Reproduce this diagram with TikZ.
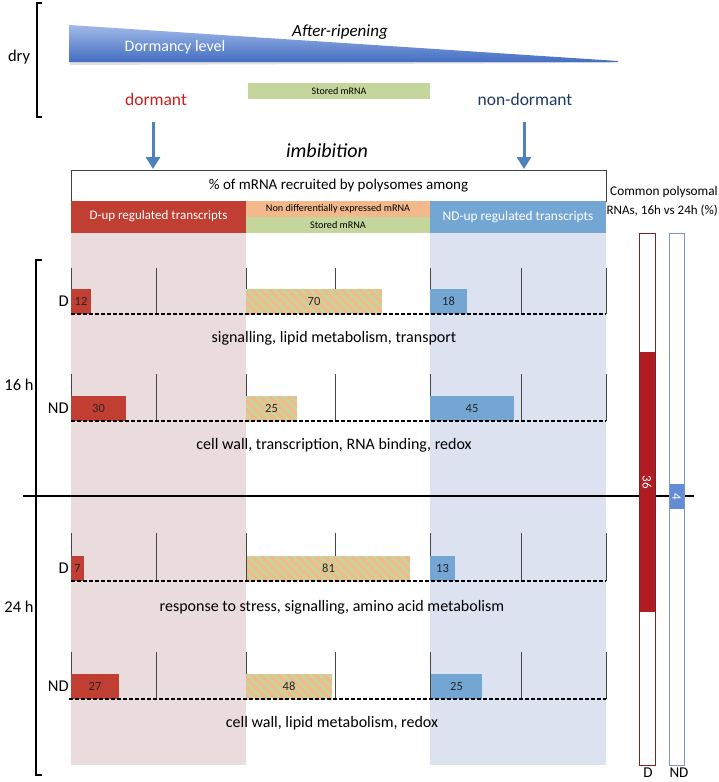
\documentclass[tikz,border=0pt]{standalone}
\usepackage{fontspec}
\setmainfont{Carlito}
\usetikzlibrary{arrows.meta}
\definecolor{redbar}{RGB}{192,62,50}
\definecolor{bluebar}{RGB}{116,166,211}
\definecolor{pinkbg}{RGB}{234,220,220}
\definecolor{bluebg}{RGB}{220,226,240}
\definecolor{peach}{RGB}{242,186,140}
\definecolor{sgreen}{RGB}{196,214,155}
\definecolor{arrowblue}{RGB}{79,129,189}
\definecolor{commonred}{RGB}{176,28,34}
\definecolor{commonredline}{RGB}{110,40,40}
\definecolor{commonblue}{RGB}{100,140,212}
\definecolor{commonblueline}{RGB}{120,150,205}
\definecolor{dormred}{RGB}{200,30,30}
\definecolor{ndblue}{RGB}{31,56,100}
\definecolor{tickgray}{RGB}{70,70,70}
\newcommand\fsz[1]{\fontsize{#1}{#1}\selectfont}
\begin{document}
\begin{tikzpicture}[x=1pt,y=-1pt,
  box/.style={inner sep=0pt, outer sep=0pt, minimum width=#1},
  barbox/.style={inner sep=0pt, outer sep=0pt, anchor=south west, minimum height=25, font=\fsz{12.5}, text=black!85},
  redb/.style={barbox, fill=redbar, minimum width=#1},
  blueb/.style={barbox, fill=bluebar, minimum width=#1},
  hatchb/.style={barbox, fill=sgreen, minimum width=#1,
    path picture={\foreach \k in {-40,-31,...,175}
      \draw[peach, line width=3.2pt] ([xshift=\k pt]path picture bounding box.north west) -- ++(40,40);}},
  ticka/.style={tickgray, line width=0.8pt},
  baseline dash/.style={black, line width=1.3pt, dash pattern=on 4pt off 2pt},
  rowlab/.style={anchor=east, font=\fsz{16.5}, inner sep=1pt},
  desc/.style={font=\fsz{16}, inner sep=0pt},
  brack/.style={black, line width=1.4pt},
  bigarrow/.style={arrowblue, line width=3pt, -{Triangle[width=14pt,length=12pt]}}
]
\useasboundingbox (0,0) rectangle (719,782);

% column backgrounds
\fill[pinkbg] (71,232) rectangle (246,765);
\fill[bluebg] (430,232) rectangle (606,765);

% dry part
\draw[brack] (42,3) -- (37,3) -- (37,117) -- (42,117);
\node[font=\fsz{16.5}] (dry) at (19,57) {dry};
\fill[black!12] (70,27) -- (620,63) -- (70,65) -- cycle;
\shade[top color={rgb,255:red,160;green,185;blue,232}, bottom color={rgb,255:red,68;green,110;blue,194}]
  (69,25) -- (618,61) -- (618,62) -- (69,62) -- cycle;
\node[font=\fsz{16}, text=white] (dl) at (175,47) {Dormancy level};
\node[font=\fsz{17}\itshape] (ar) at (340,32) {After-ripening};
\node[box=182, minimum height=16, fill=sgreen, font=\fsz{10}] (stored) at (339,91) {Stored mRNA};
\node[font=\fsz{17.5}, text=dormred] (dorm) at (156,99) {dormant};
\node[font=\fsz{17.5}, text=ndblue] (nondorm) at (525,99) {non-dormant};
\node[font=\fsz{20}\itshape] (imb) at (327,151) {imbibition};

\coordinate (a1s) at (153,122);
\coordinate (a1e) at (153,169);
\coordinate (a2s) at (524,122);
\coordinate (a2e) at (524,169);
\draw[bigarrow] (a1s) -- (a1e);
\draw[bigarrow] (a2s) -- (a2e);

% header
\node[box=535, minimum height=31, draw=black!75, line width=0.7pt, fill=white, font=\fsz{15}] (hdr) at (338.5,185.5) {\% of mRNA recruited by polysomes among};
\node[box=175, minimum height=32, fill=redbar, text=white, font=\fsz{13}] (hd) at (158.5,216.5) {D-up regulated transcripts};
\node[box=184, minimum height=16, fill=peach, font=\fsz{10.2}] (hn) at (338,208.5) {Non differentially expressed mRNA};
\node[box=184, minimum height=16, fill=sgreen, font=\fsz{10.2}] (hs) at (338,224.5) {Stored mRNA};
\node[box=176, minimum height=32, fill=bluebar, text=white, font=\fsz{13.4}] (hnd) at (518,216.5) {ND-up regulated transcripts};

\node[anchor=east, font=\fsz{13.3}, inner sep=0pt] (com1) at (718,192) {Common polysomal};
\node[anchor=east, font=\fsz{13}, inner sep=0pt] (com2) at (718,211) {RNAs, 16h vs 24h (\%)};

% left bracket for 16h / 24h
\draw[brack] (42,260) -- (36,260) -- (36,775) -- (42,775);
\node[font=\fsz{16.5}, inner sep=1pt] (h16) at (19,385) {16 h};
\node[font=\fsz{16.5}, inner sep=1pt] (h24) at (19,607) {24 h};

% separating line
\draw[black, line width=2pt] (23,496) -- (694,496);

% rows: ticks
\foreach \t/\b in {268/314, 374/421, 533/581, 652/699}{
  \foreach \x in {71,156,246,335,430,521,606}
    \draw[ticka] (\x,\t) -- (\x,\b);
}

% row 1 (16 h, D)
\node[rowlab] (r1l) at (70,301) {D};
\node[redb=20] (r1a) at (71,314) {12};
\node[hatchb=136] (r1b) at (246,314) {70};
\node[blueb=37] (r1c) at (430,314) {18};
\draw[baseline dash] (71,314) -- (606,314);
\node[desc] (r1d) at (334,338) {signalling, lipid metabolism, transport};

% row 2 (16 h, ND)
\node[rowlab] (r2l) at (70,408) {ND};
\node[redb=55] (r2a) at (71,421) {30};
\node[hatchb=51] (r2b) at (246,421) {25};
\node[blueb=84] (r2c) at (430,421) {45};
\draw[baseline dash] (71,421) -- (606,421);
\node[desc] (r2d) at (334,445) {cell wall, transcription, RNA binding, redox};

% row 3 (24 h, D)
\node[rowlab] (r3l) at (70,568) {D};
\node[redb=13] (r3a) at (71,581) {7};
\node[hatchb=163] (r3b) at (247,581) {81};
\node[blueb=25] (r3c) at (430,581) {13};
\draw[baseline dash] (71,581) -- (606,581);
\node[desc] (r3d) at (332,607) {response to stress, signalling, amino acid metabolism};

% row 4 (24 h, ND)
\node[rowlab] (r4l) at (70,686) {ND};
\node[redb=48] (r4a) at (71,699) {27};
\node[hatchb=86] (r4b) at (246,699) {48};
\node[blueb=51] (r4c) at (431,699) {25};
\draw[baseline dash] (69,699) -- (606,699);
\node[desc] (r4d) at (332,723) {cell wall, lipid metabolism, redox};

% common polysomal bars
\node[box=16, minimum height=532, draw=commonredline, line width=0.9pt, fill=white] (cD) at (647,499) {};
\node[box=15, minimum height=532, draw=commonblueline, line width=0.9pt, fill=white] (cND) at (676.5,499) {};
\node[box=15, minimum height=260, fill=commonred, text=white, font=\fsz{13}] (cDf) at (647,482) {\rotatebox{-90}{36}};
\node[box=14, minimum height=25, fill=commonblue, text=white, font=\fsz{13}] (cNDf) at (676.5,496.5) {\rotatebox{-90}{4}};
\node[font=\fsz{15}] (lD) at (648,773) {D};
\node[font=\fsz{15}] (lND) at (679,773) {ND};
\end{tikzpicture}
\end{document}
